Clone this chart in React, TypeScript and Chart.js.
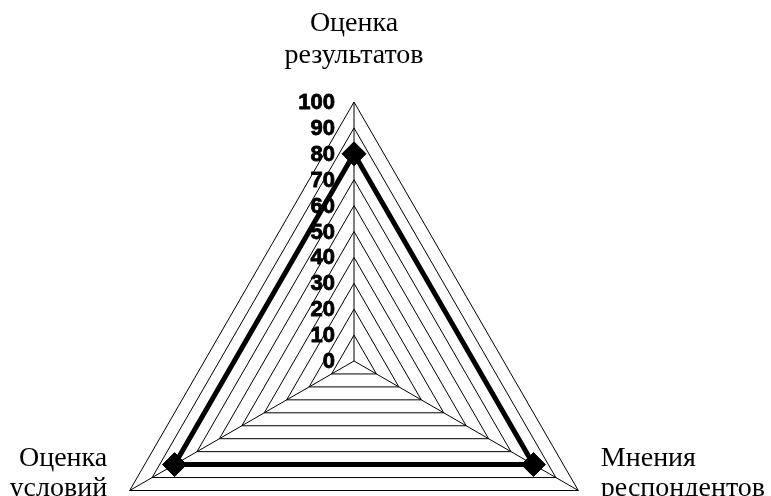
import React, { useEffect, useRef } from "react";
import { Chart, registerables } from "chart.js";

Chart.register(...registerables);

// Axis categories (multi-line labels), clockwise from top
const categories: string[][] = [
  ["Оценка", "результатов"],
  ["Мнения", "респондентов"],
  ["Оценка", "условий"],
];

// Series values
const seriesValues: number[] = [80, 80, 80];

// Scale ticks
const tickMin = 0;
const tickMax = 100;
const tickStep = 10;

const labelPlugin = {
  id: "customRadarLabels",
  afterDraw(chart: any) {
    const scale = chart.scales.r;
    const ctx = chart.ctx as CanvasRenderingContext2D;
    ctx.save();
    ctx.fillStyle = "#000";
    ctx.strokeStyle = "#000";

    // tick labels, to the left of the vertical axis
    ctx.font = "bold 22px 'Liberation Sans', Arial, sans-serif";
    ctx.textAlign = "right";
    ctx.textBaseline = "middle";
    ctx.lineWidth = 0.8;
    ctx.lineJoin = "round";
    scale.ticks.forEach((t: any) => {
      const d = scale.getDistanceFromCenterForValue(t.value);
      const x = scale.xCenter - 19;
      const y = scale.yCenter - d + 1;
      ctx.fillText(String(t.value), x, y);
      ctx.strokeText(String(t.value), x, y);
    });

    // point labels
    ctx.font = "28px 'Liberation Serif', 'Times New Roman', serif";
    ctx.textBaseline = "alphabetic";
    categories.forEach((lines, i) => {
      const p = scale.getPointPosition(i, scale.drawingArea + 26);
      const dx = p.x - scale.xCenter;
      ctx.textAlign = Math.abs(dx) < 5 ? "center" : dx < 0 ? "right" : "left";
      const isTop = p.y < scale.yCenter;
      const lh = isTop ? 32 : 30;
      const first = isTop ? p.y - 13 - lh * (lines.length - 1) : p.y - 38;
      lines.forEach((ln, k) => ctx.fillText(ln, p.x, first + k * lh));
    });
    ctx.restore();
  },
};

export default function App() {
  const ref = useRef<HTMLCanvasElement | null>(null);

  useEffect(() => {
    if (!ref.current) return;
    const chart = new Chart(ref.current, {
      type: "radar",
      data: {
        labels: categories,
        datasets: [
          {
            data: seriesValues,
            borderColor: "#000",
            borderWidth: 5,
            backgroundColor: "rgba(0,0,0,0)",
            fill: false,
            pointStyle: "rectRot",
            pointRadius: 12,
            pointBackgroundColor: "#000",
            pointBorderColor: "#000",
            pointBorderWidth: 1,
          },
        ],
      },
      options: {
        animation: false,
        responsive: true,
        maintainAspectRatio: false,
        layout: { padding: { top: 102, bottom: 0, left: 95, right: 158 } },
        plugins: {
          legend: { display: false },
          tooltip: { enabled: false },
        },
        scales: {
          r: {
            min: tickMin,
            max: tickMax,
            ticks: { stepSize: tickStep, display: false },
            grid: { color: "#000", lineWidth: 1 },
            angleLines: { color: "#000", lineWidth: 1 },
            pointLabels: { display: false },
          },
        },
      },
      plugins: [labelPlugin],
    });
    return () => chart.destroy();
  }, []);

  return (
    <div
      style={{
        position: "absolute",
        left: 0,
        top: 0,
        width: 771,
        height: 496,
        overflow: "hidden",
        background: "#fff",
      }}
    >
      <div style={{ position: "relative", width: 771, height: 620 }}>
        <canvas ref={ref} />
      </div>
    </div>
  );
}
